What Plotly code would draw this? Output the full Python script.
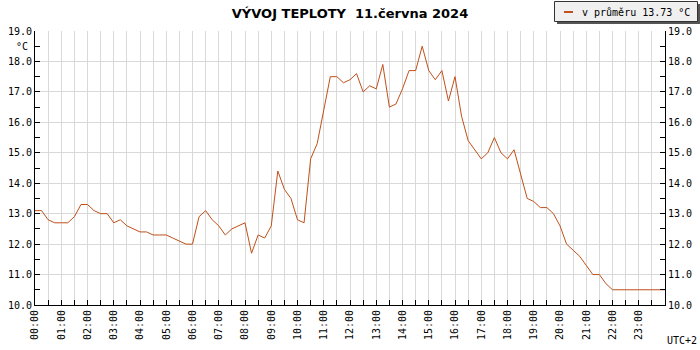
import plotly.graph_objects as go

temps = [13.1, 13.1, 12.8, 12.7, 12.7, 12.7, 12.9, 13.3, 13.3, 13.1, 13.0, 13.0,
         12.7, 12.8, 12.6, 12.5, 12.4, 12.4, 12.3, 12.3, 12.3, 12.2, 12.1, 12.0,
         12.0, 12.9, 13.1, 12.8, 12.6, 12.3, 12.5, 12.6, 12.7, 11.7, 12.3, 12.2,
         12.6, 14.4, 13.8, 13.5, 12.8, 12.7, 14.8, 15.3, 16.4, 17.5, 17.5, 17.3,
         17.4, 17.6, 17.0, 17.2, 17.1, 17.9, 16.5, 16.6, 17.1, 17.7, 17.7, 18.5,
         17.7, 17.4, 17.7, 16.7, 17.5, 16.2, 15.4, 15.1, 14.8, 15.0, 15.5, 15.0,
         14.8, 15.1, 14.3, 13.5, 13.4, 13.2, 13.2, 13.0, 12.6, 12.0, 11.8, 11.6,
         11.3, 11.0, 11.0, 10.7, 10.5, 10.5, 10.5, 10.5, 10.5, 10.5, 10.5, 10.5,
         10.5]
hours = [i * 0.25 for i in range(len(temps))]

hour_ticks = list(range(24))
hour_labels = ["%02d:00" % h for h in hour_ticks]
y_ticks = list(range(10, 20))
y_labels = ["%.1f" % v for v in y_ticks]

title_text = "VÝVOJ TEPLOTY\u00a0\u00a011.června 2024"
legend_text = "v průměru 13.73 °C"
line_color = "#c0501a"
mono = "DejaVu Sans Mono"

fig = go.Figure()
fig.add_trace(go.Scatter(x=hours, y=temps, mode="lines",
                         line=dict(color=line_color, width=1),
                         showlegend=False, hoverinfo="skip"))
fig.add_trace(go.Scatter(x=[hours[0]], y=[temps[0]], yaxis="y2", mode="lines",
                         line=dict(width=0), showlegend=False, hoverinfo="skip"))

grid = "#d9d9d9"
fig.update_layout(
    width=700, height=350, autosize=False,
    margin=dict(l=35, r=35, t=31, b=45, autoexpand=False),
    paper_bgcolor="white", plot_bgcolor="white",
    font=dict(family=mono, size=10, color="#000"),
    title=dict(text="<b>" + title_text + "</b>", x=0.5, xanchor="center",
               y=1 - 13 / 350, yanchor="middle", automargin=False,
               font=dict(family="DejaVu Sans", size=13, color="#000")),
    xaxis=dict(range=[0, 24], tickvals=hour_ticks, ticktext=hour_labels,
               tickangle=-90, ticks="inside", ticklen=5, tickcolor="#000",
               showline=True, linecolor="#000", linewidth=1,
               showgrid=True, gridcolor=grid, gridwidth=1,
               minor=dict(dtick=0.5, ticks="inside", ticklen=5, tickcolor="#000",
                          showgrid=True, gridcolor=grid, gridwidth=1),
               zeroline=False, fixedrange=True, automargin=False,
               tickfont=dict(family=mono, size=10)),
    yaxis=dict(range=[10, 19], tickvals=y_ticks, ticktext=y_labels,
               ticks="inside", ticklen=5, tickcolor="#000",
               showline=True, linecolor="#000", linewidth=1,
               showgrid=True, gridcolor=grid, gridwidth=1,
               minor=dict(dtick=0.5, ticks="inside", ticklen=5, tickcolor="#000",
                          showgrid=False),
               zeroline=False, fixedrange=True, automargin=False,
               tickfont=dict(family=mono, size=10)),
    yaxis2=dict(range=[10, 19], tickvals=y_ticks, ticktext=y_labels,
                overlaying="y", side="right", matches="y",
                ticks="inside", ticklen=5, tickcolor="#000",
                showline=True, linecolor="#000", linewidth=1,
                showgrid=False,
                minor=dict(dtick=0.5, ticks="inside", ticklen=5, tickcolor="#000",
                           showgrid=False),
                zeroline=False, fixedrange=True, automargin=False,
                tickfont=dict(family=mono, size=10)),
)

pw, ph = 630.0, 274.0
def px(xp):
    return (xp - 35) / pw
def py(yp):
    return (305 - yp) / ph

fig.add_shape(type="rect", xref="paper", yref="paper",
              x0=px(557), x1=px(700), y0=py(4), y1=py(24),
              fillcolor="#555", line=dict(width=0), layer="above")
fig.add_shape(type="rect", xref="paper", yref="paper",
              x0=px(554.5), x1=px(697.5), y0=py(1.5), y1=py(21.5),
              fillcolor="#f0f0f0", line=dict(color="#333", width=1), layer="above")
fig.add_shape(type="line", xref="paper", yref="paper",
              x0=px(564), x1=px(573), y0=py(12), y1=py(12),
              line=dict(color=line_color, width=2), layer="above")
fig.add_annotation(xref="paper", yref="paper", x=px(580), y=py(12),
                   xanchor="left", yanchor="middle", showarrow=False,
                   text=legend_text, font=dict(family=mono, size=10, color="#000"))
fig.add_annotation(xref="paper", yref="paper", x=px(30), y=py(46),
                   xanchor="right", yanchor="middle", showarrow=False,
                   text="°C", font=dict(family=mono, size=10, color="#000"))
fig.add_annotation(xref="paper", yref="paper", x=px(699), y=py(340),
                   xanchor="right", yanchor="middle", showarrow=False,
                   text="UTC+2", font=dict(family=mono, size=10, color="#000"))

fig.write_html("out.html", config={"displayModeBar": False},
               post_script="document.body.style.margin='0';document.body.style.overflow='hidden';")
